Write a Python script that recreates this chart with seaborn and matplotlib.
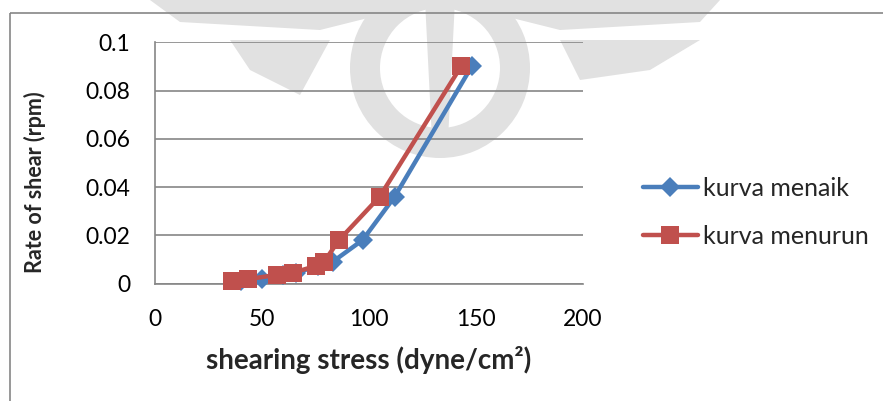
import matplotlib
matplotlib.use("Agg")
import matplotlib.pyplot as plt
import matplotlib.patches as mpatches
import numpy as np
import pandas as pd
import seaborn as sns

# Shearing stress (dyne/cm2) vs rate of shear (rpm)
naik_stress = [40, 50, 60, 66, 76, 83, 97, 112, 148]
naik_rate = [0.0009, 0.0018, 0.0036, 0.0045, 0.0072, 0.009, 0.018, 0.036, 0.09]
turun_stress = [36, 43.5, 57, 64.5, 75, 79, 86, 105, 143]
turun_rate = [0.0012, 0.0018, 0.0036, 0.0045, 0.0072, 0.009, 0.018, 0.036, 0.09]
series_names = ["kurva menaik", "kurva menurun"]
x_ticks = [0, 50, 100, 150, 200]
y_ticks = [0, 0.02, 0.04, 0.06, 0.08, 0.1]
y_tick_labels = ["0", "0.02", "0.04", "0.06", "0.08", "0.1"]

sns.set_style("white")
plt.rcParams["font.family"] = ["Lato", "DejaVu Sans"]

W, H = 883, 401
fig = plt.figure(figsize=(W / 100, H / 100), dpi=100)

# faint background emblem
bg = fig.add_axes([0, 0, 1, 1], zorder=-5)
bg.set_xlim(0, W)
bg.set_ylim(H, 0)
bg.axis("off")
gray = "#e1e1e1"
bg.add_patch(mpatches.Wedge((440, 68), 90, 0, 360, width=30, color=gray, lw=0))
bg.add_patch(mpatches.Polygon([(150, 0), (720, 0), (700, 22), (560, 30), (440, 0),
                               (320, 30), (180, 22)], color=gray, lw=0))
bg.add_patch(mpatches.Polygon([(230, 40), (330, 40), (300, 95), (250, 70)], color=gray, lw=0))
bg.add_patch(mpatches.Polygon([(560, 40), (700, 40), (650, 70), (580, 80)], color=gray, lw=0))
bg.add_patch(mpatches.Polygon([(425, 0), (455, 0), (448, 140), (432, 140)], color=gray, lw=0))
# chart frame
bg.add_patch(mpatches.Rectangle((9.5, 12.5), W, H, fill=False, ec="#868686", lw=1.2))

ax = fig.add_axes([155 / W, 1 - 283.5 / H, (583 - 155) / W, (283.5 - 42.3) / H])
ax.patch.set_alpha(0)

df = pd.DataFrame({
    "stress": naik_stress + turun_stress,
    "rate": naik_rate + turun_rate,
    "series": [series_names[0]] * len(naik_stress) + [series_names[1]] * len(turun_stress),
})

sns.lineplot(data=df[df.series == series_names[0]], x="stress", y="rate", ax=ax,
             sort=False, estimator=None, color="#4A7EBB", lw=3.2,
             marker="D", markersize=10, markeredgewidth=0, clip_on=False,
             label=series_names[0], zorder=3)
sns.lineplot(data=df[df.series == series_names[1]], x="stress", y="rate", ax=ax,
             sort=False, estimator=None, color="#C0504D", lw=3.2,
             marker="s", markersize=13.5, markeredgewidth=0, clip_on=False,
             label=series_names[1], zorder=4)

ax.set_xlim(0, 200)
ax.set_ylim(0, 0.1)
ax.set_xticks(x_ticks)
ax.set_yticks(y_ticks)
ax.set_yticklabels(y_tick_labels)
ax.yaxis.grid(True, color="#868686", lw=1.2)
ax.xaxis.grid(False)
for s in ["top", "right"]:
    ax.spines[s].set_visible(False)
for s in ["left", "bottom"]:
    ax.spines[s].set_color("#868686")
    ax.spines[s].set_linewidth(1.2)
ax.tick_params(axis="both", length=0, labelsize=16.5, colors="black")
ax.tick_params(axis="y", pad=18)
ax.tick_params(axis="x", pad=18)

ax.set_xlabel("shearing stress (dyne/cm²)", fontsize=20, fontweight="bold", labelpad=12)
ax.set_ylabel("Rate of shear (rpm)", fontsize=15.5, fontweight="bold")
ax.yaxis.set_label_coords(-0.255, 0.42)

leg = ax.legend(loc="center left", bbox_to_anchor=(1.14, 0.296), frameon=False,
                fontsize=18, handlelength=2.2, labelspacing=1.0, handletextpad=0.2,
                borderpad=0, borderaxespad=0)

fig.savefig("out.png", dpi=100)
